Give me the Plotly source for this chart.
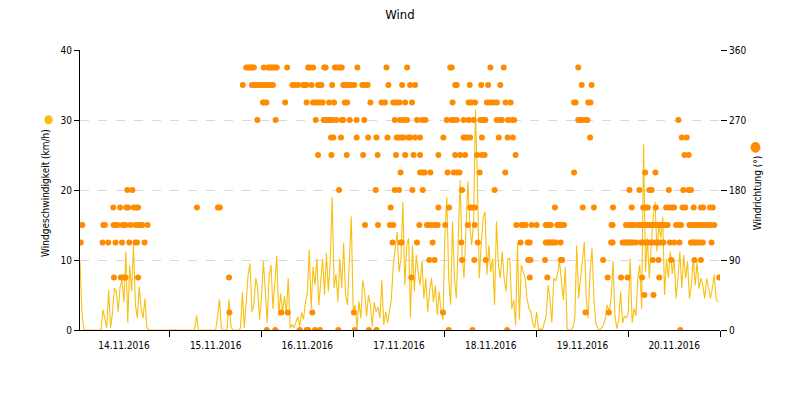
import pandas as pd
import plotly.graph_objects as go

# ---------------- data ----------------
start = pd.Timestamp("2016-11-14 00:00")
step_hours = 0.5  # wind speed sampled every 30 min

speed_d1 = [0, 9.8, 2.6, 0, 0, 0, 0, 0, 0, 0, 0, 0, 0, 2.9, 1.5, 0.3, 5.7, 0.3, 2.5, 6.0, 5.5, 2.6, 6.2, 7.1,
            4.0, 11.2, 1.0, 9.2, 5.5, 12.1, 3.6, 1.7, 6.2, 3.1, 1.7, 4.5, 0.3, 0, 0, 0, 0, 0, 0, 0, 0, 0, 0, 0]
speed_d2 = [0, 0, 0, 0, 0, 0, 0, 0, 0, 0, 0, 0, 0, 0, 2.1, 0, 0, 0, 0, 0, 0, 0, 0, 0, 0, 1.9, 4.4, 0.3,
            0, 0, 0, 4.4, 0.5, 0, 0, 0, 0, 0.3, 5.4, 0.3, 5.0, 7.9, 9.5, 2.6, 3.6, 7.4, 6.0, 1.5]
speed_d3 = [4.5, 9.8, 5.5, 1.0, 7.6, 9.3, 3.0, 7.4, 10.6, 2.0, 5.2, 2.5, 4.8, 2.2, 7.4, 0.2, 0.8, 0.3, 1.0, 1.9,
            0.5, 2.5, 1.5, 4.0, 5.2, 11.5, 3.0, 9.0, 6.4, 10.2, 3.5, 7.6, 10.2, 5.0, 11.0, 5.5, 10.0, 19.0, 6.0, 8.0,
            4.0, 10.2, 6.0, 12.4, 5.0, 3.6, 11.2, 16.2]
speed_d4 = [2.6, 3.6, 0.3, 4.1, 1.7, 7.1, 5.5, 1.9, 5.0, 3.6, 0.5, 4.0, 2.6, 3.3, 1.7, 7.1, 0.7, 2.6, 1.0, 3.1,
            4.5, 9.3, 11.7, 14.0, 8.3, 10.2, 18.3, 6.4, 12.1, 13.1, 1.8, 12.1, 5.5, 10.7, 8.3, 6.4, 9.8, 4.5, 7.4, 2.6,
            5.5, 7.4, 4.0, 6.4, 2.1, 5.5, 2.6, 1.5]
speed_d5 = [13.6, 19.0, 7.4, 3.6, 15.5, 7.4, 4.5, 12.1, 21.4, 10.7, 7.4, 14.0, 21.2, 15.2, 12.1, 15.2, 31.5, 21.2, 7.4, 12.1,
            16.0, 16.9, 7.9, 12.1, 8.3, 10.2, 3.6, 15.5, 9.3, 7.4, 11.2, 7.4, 5.5, 10.2, 10.2, 3.0, 4.3, 0.7, 12.4, 1.5,
            9.3, 8.3, 7.4, 4.5, 3.1, 2.6, 1.0, 0.3]
speed_d6 = [2.6, 0, 0.2, 0, 1.0, 2.0, 6.4, 4.5, 1.0, 7.4, 7.0, 8.1, 9.8, 6.4, 4.3, 9.0, 0.2, 0, 0, 0.3,
            1.7, 12.1, 4.5, 7.4, 9.8, 12.6, 4.5, 1.7, 8.3, 11.7, 4.5, 1.0, 0.2, 0, 0.3, 0.7, 1.7, 3.6, 2.6, 4.5,
            9.8, 2.0, 0.2, 1.5, 5.5, 1.0, 2.0, 1.7]
speed_d7 = [2.6, 10.2, 1.0, 3.1, 2.0, 7.4, 9.3, 3.0, 26.5, 8.3, 13.1, 7.4, 12.1, 16.0, 18.3, 11.2, 15.0, 13.1, 16.2, 5.0,
            10.2, 7.4, 11.2, 8.0, 10.2, 4.5, 7.4, 11.2, 6.0, 10.7, 7.4, 9.8, 4.5, 6.4, 10.2, 6.4, 9.8, 5.9, 7.4, 6.4,
            4.5, 7.4, 6.0, 4.5, 6.0, 7.9, 4.5, 4.0]

# wind direction observations: hours since 14.11.2016 00:00, grouped by direction (degrees)
dir_000 = [49.4, 51.6, 58.0, 59.8, 60.2, 62.0, 63.3, 68.1, 72.4, 76.1, 78.1, 97.0, 103.2, 112.3, 157.6]
dir_022 = [39.6, 53.2, 54.9, 61.3, 72.2, 95.5, 132.8, 138.9]
dir_045 = [148.2, 150.6]
dir_067 = [9.4, 11.2, 11.9, 12.4, 15.7, 39.5, 87.2, 118.2, 122.8, 138.6, 142.1, 143.8, 147.6, 152.1, 167.8]
dir_090 = [91.9, 93.3, 100.5, 103.7, 106.7, 117.8, 118.4, 122.2, 126.3, 126.7, 137.4, 150.4, 151.9, 155.2, 161.3, 163.0]
dir_112 = [0.7, 6.4, 7.9, 9.8, 11.5, 13.4, 15.0, 15.4, 17.4, 82.3, 84.4, 84.7, 88.7, 92.8, 100.3, 104.6, 115.8, 117.7,
           118.2, 122.4, 122.8, 123.2, 123.7, 124.1, 124.5, 125.0, 126.3, 139.5, 139.9, 142.5, 143.0, 143.4, 143.8,
           144.3, 144.7, 145.3, 146.0, 147.3, 147.9, 148.6, 149.2, 149.9, 150.5, 151.2, 151.9, 152.6, 153.2, 154.9,
           156.0, 157.4, 160.4, 160.8, 161.3, 161.7, 162.1, 162.8, 163.5, 165.8]
dir_135 = [0.3, 1.1, 6.6, 7.0, 9.3, 9.9, 10.3, 11.6, 12.2, 12.4, 13.7, 15.0, 15.8, 16.1, 16.8, 18.2, 75.1, 78.5, 81.6,
           82.5, 89.3, 91.3, 91.7, 92.6, 93.5, 94.1, 96.1, 102.0, 103.8, 114.7, 116.1, 116.7, 117.1, 118.7, 120.0,
           122.4, 122.8, 123.2, 123.7, 125.4, 125.8, 126.3, 126.7, 127.2, 139.6, 139.9, 143.4, 144.3, 145.0, 145.3,
           146.4, 146.9, 147.3, 147.8, 148.2, 148.6, 149.1, 149.5, 149.9, 150.4, 150.8, 151.2, 151.7, 152.1, 152.6,
           153.0, 153.4, 153.9, 154.3, 156.5, 157.4, 157.8, 160.0, 160.6, 161.3, 161.7, 162.1, 162.8, 163.5, 164.3,
           164.9, 165.6, 166.5]
dir_157 = [9.2, 11.0, 12.6, 13.1, 14.6, 15.3, 15.7, 31.1, 36.6, 37.1, 81.8, 94.3, 97.1, 102.6, 103.1, 103.9, 124.8,
           132.1, 135.0, 140.0, 144.9, 147.9, 148.6, 149.1, 151.2, 153.9, 154.7, 155.4, 156.0, 158.2, 158.9, 161.1,
           163.0, 163.6, 165.4, 166.1]
dir_180 = [12.9, 14.2, 68.3, 77.9, 82.9, 84.0, 87.5, 90.2, 100.5, 109.0, 144.3, 146.9, 149.5, 150.1, 154.6, 158.4,
           159.8, 160.4]
dir_202 = [84.4, 89.5, 90.2, 90.7, 92.2, 96.7, 98.3, 99.1, 99.8, 105.1, 111.8, 129.8, 148.4, 151.1]
dir_225 = [62.8, 66.3, 70.3, 74.6, 78.4, 83.2, 85.6, 87.8, 89.5, 94.3, 98.7, 100.0, 101.3, 104.4, 105.7, 106.4, 114.5,
           158.7, 159.8]
dir_247 = [66.2, 66.8, 68.8, 72.9, 75.9, 78.1, 81.0, 83.4, 84.0, 84.7, 85.2, 86.5, 86.9, 88.2, 89.5, 95.6, 100.9,
           101.3, 101.8, 102.6, 105.7, 110.1, 112.4, 113.8, 134.0, 158.0, 159.3]
dir_270 = [46.9, 51.7, 62.2, 64.3, 64.8, 65.3, 65.7, 66.2, 66.6, 67.6, 69.0, 69.4, 71.1, 72.9, 74.9, 82.9, 84.2, 85.2,
           86.1, 88.7, 90.0, 90.9, 96.5, 97.8, 98.3, 99.1, 100.9, 102.2, 103.5, 105.3, 105.7, 106.1, 106.6, 109.6,
           110.5, 110.9, 112.5, 113.6, 114.1, 130.9, 131.5, 131.9, 132.8, 133.3, 157.1]
dir_292 = [48.4, 48.8, 49.3, 54.2, 59.8, 61.5, 62.0, 62.7, 63.3, 64.0, 65.7, 67.0, 69.8, 70.4, 76.5, 79.4, 80.3, 82.5,
           83.4, 84.1, 85.6, 87.4, 98.0, 102.2, 102.9, 103.9, 107.0, 107.9, 108.7, 109.6, 111.9, 113.2, 129.8, 130.2,
           133.5, 134.1]
dir_315 = [43.1, 45.5, 46.0, 46.5, 47.0, 47.5, 48.0, 48.5, 49.0, 49.5, 50.0, 50.5, 51.0, 56.1, 56.7, 57.6, 58.9, 59.3,
           59.8, 61.1, 62.8, 63.3, 63.7, 66.5, 69.4, 69.8, 70.3, 70.7, 71.1, 71.6, 72.3, 74.4, 75.1, 75.8, 81.2, 84.8,
           86.9, 88.2, 98.7, 99.1, 102.5, 105.5, 107.3, 110.5, 131.8, 134.4]
dir_337 = [44.0, 44.4, 44.8, 45.2, 45.6, 46.0, 48.6, 49.7, 50.1, 50.5, 51.0, 51.5, 52.0, 54.7, 60.2, 60.7, 61.5, 64.4,
           64.8, 67.2, 67.8, 68.5, 69.0, 73.1, 80.7, 86.1, 97.4, 97.8, 107.9, 111.4, 130.9]

dir_levels = [0, 22.5, 45, 67.5, 90, 112.5, 135, 157.5, 180, 202.5, 225, 247.5, 270, 292.5, 315, 337.5]
dir_groups = [dir_000, dir_022, dir_045, dir_067, dir_090, dir_112, dir_135, dir_157, dir_180, dir_202,
              dir_225, dir_247, dir_270, dir_292, dir_315, dir_337]

# ---------------- build series ----------------
speed = speed_d1 + speed_d2 + speed_d3 + speed_d4 + speed_d5 + speed_d6 + speed_d7
speed_t = [start + pd.Timedelta(hours=i * step_hours) for i in range(len(speed))]

dir_t, dir_v = [], []
for lvl, hours in zip(dir_levels, dir_groups):
    for h in hours:
        dir_t.append(start + pd.Timedelta(hours=h))
        dir_v.append(lvl)

FONT = "DejaVu Sans Condensed, DejaVu Sans, sans-serif"
YELLOW = "#f8c012"
ORANGE = "#ff8c00"

fig = go.Figure()
fig.add_trace(go.Scatter(x=speed_t, y=speed, mode="lines", name="Windgeschwindigkeit",
                         line=dict(color=YELLOW, width=1.1), yaxis="y"))
fig.add_trace(go.Scatter(x=dir_t, y=dir_v, mode="markers", name="Windrichtung",
                         marker=dict(color=ORANGE, size=6, line=dict(width=0)), yaxis="y2"))

# page body has an 8px default margin, so margins are offset by 8px
fig.update_layout(
    width=800, height=400,
    margin=dict(l=72, r=88, t=42, b=78, autoexpand=False),
    paper_bgcolor="white", plot_bgcolor="white",
    showlegend=False,
    font=dict(family=FONT, size=10, color="#000"),
    title=dict(text="Wind", x=0.49, xanchor="center", y=0.985, yanchor="middle",
               font=dict(family=FONT, size=13, color="#000")),
    xaxis=dict(type="date",
               range=["2016-11-14 00:30", "2016-11-21 00:00"],
               tick0="2016-11-14", dtick=86400000, tickformat="%d.%m.%Y",
               ticklabelmode="period", ticks="outside", ticklen=6, tickcolor="#000",
               showline=True, linecolor="#000", linewidth=1, showgrid=False, zeroline=False,
               tickfont=dict(size=10)),
    yaxis=dict(range=[0, 40], dtick=10, ticks="outside", ticklen=5, tickcolor="#000",
               showline=True, linecolor="#000", linewidth=1, zeroline=False,
               showgrid=True, gridcolor="#d9d9d9", griddash="dash", gridwidth=1,
               tickfont=dict(size=10)),
    yaxis2=dict(range=[0, 360], dtick=90, overlaying="y", side="right", ticks="outside",
                ticklen=6, tickcolor="#000", showline=False, showgrid=False, zeroline=False,
                tickfont=dict(size=10)),
)

fig.add_annotation(text="Windgeschwindigkeit (km/h)", xref="paper", yref="paper",
                   x=-0.053, y=0.49, xanchor="center", yanchor="middle", textangle=-90,
                   showarrow=False, font=dict(family=FONT, size=10, color="#000"))
fig.add_annotation(text="●", xref="paper", yref="paper", x=-0.05, y=0.754,
                   xanchor="center", yanchor="middle", showarrow=False,
                   font=dict(size=12, color=YELLOW))
fig.add_annotation(text="Windrichtung (°)", xref="paper", yref="paper",
                   x=1.058, y=0.489, xanchor="center", yanchor="middle", textangle=-90,
                   showarrow=False, font=dict(family=FONT, size=10, color="#000"))
fig.add_annotation(text="●", xref="paper", yref="paper", x=1.055, y=0.657,
                   xanchor="center", yanchor="middle", showarrow=False,
                   font=dict(size=14, color=ORANGE))

fig.write_html("out.html")
